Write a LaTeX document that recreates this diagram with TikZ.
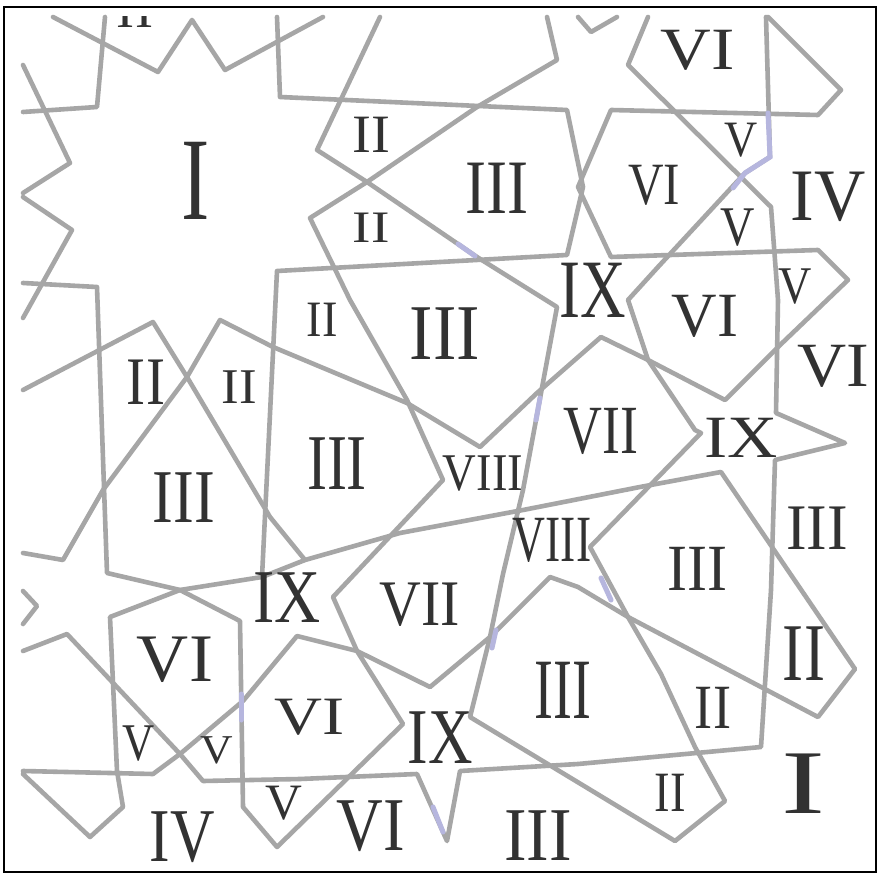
\documentclass[tikz,border=0pt]{standalone}
\usepackage{fontspec}
\setmainfont{Liberation Serif}
\usepackage{tikz}
\usepackage{graphicx}
\definecolor{tilegray}{RGB}{166,166,166}
\definecolor{inkgray}{RGB}{50,50,50}
\definecolor{lavender}{RGB}{182,182,222}
\newcommand{\rnum}[1]{\fontsize{#1}{#1}\selectfont}

\begin{document}
\begin{tikzpicture}[x=1pt,y=-1pt,
	tile/.style={draw=tilegray,line width=4.6pt,line join=round,line cap=round},
	tint/.style={draw=lavender,line width=5pt,line cap=round},
	lab/.style={text=inkgray,inner sep=0pt}]
	\useasboundingbox (0,0) rectangle (878,874);
	\fill[white] (0,0) rectangle (878,874);
	\draw[line width=2pt] (4,7) rectangle (876,872);

	\draw[tile] (53,17) -- (158,72) -- (192,20) -- (225,70) -- (323,17);
	\draw[tile] (23,65) -- (70,163) -- (23,193);
	\draw[tile] (23,197) -- (72,230) -- (23,318);
	\draw[tile] (23,112) -- (97,107) -- (105,17);
	\draw[tile] (578,17) -- (591,32) -- (617,17);
	\draw[tile] (23,591) -- (37,606) -- (23,624);

	\draw[tile] (768,17) -- (841,90) -- (818,115) -- (611,110) -- (578,187) -- (611,257) -- (818,250)
		-- (848,280) -- (778,347) -- (725,400) -- (648,360) -- (601,337) -- (537,393) -- (480,447)
		-- (407,403) -- (273,347) -- (220,320) -- (187,377) -- (103,490) -- (63,560) -- (23,553);
	\draw[tile] (648,17) -- (628,65) -- (771,207) -- (778,300) -- (776,413) -- (845,443) -- (775,460)
		-- (771,590) -- (761,747) -- (578,764) -- (460,771) -- (447,841) -- (417,774) -- (300,779)
		-- (203,781) -- (180,754) -- (67,634) -- (23,651);
	\draw[tile] (766,17) -- (770,157) -- (745,173) -- (658,267) -- (628,300) -- (648,360) -- (695,430)
		-- (701,433) -- (590,547) -- (628,617) -- (661,674) -- (695,747) -- (725,801) -- (675,841)
		-- (470,717) -- (490,637) -- (503,574) -- (523,490) -- (557,307) -- (477,257) -- (367,182)
		-- (317,150) -- (380,17);
	\draw[tile] (547,17) -- (557,60) -- (477,107) -- (367,182) -- (310,218) -- (350,300) -- (407,400)
		-- (443,480) -- (333,597) -- (357,651) -- (403,724) -- (277,847) -- (243,807) -- (240,621)
		-- (180,590) -- (107,573) -- (97,287) -- (23,283);
	\draw[tile] (277,17) -- (280,97) -- (567,110) -- (583,187) -- (567,255) -- (277,271) -- (262,577);
	\draw[tile] (23,774) -- (90,837) -- (123,807) -- (117,771) -- (110,617) -- (180,590) -- (262,577)
		-- (305,560) -- (400,533) -- (523,510) -- (640,487) -- (721,472) -- (855,669) -- (818,717)
		-- (628,617) -- (578,587) -- (550,577) -- (490,637) -- (430,687) -- (357,651) -- (297,636)
		-- (243,701) -- (180,754) -- (153,774) -- (23,771);
	\draw[tile] (23,390) -- (153,322) -- (187,377) -- (270,517) -- (305,560);

	\draw[tint] (768,113) -- (770,157) -- (745,173) -- (733,188);
	\draw[tint] (458,244) -- (475,256);
	\draw[tint] (540,398) -- (536,420);
	\draw[tint] (496,630) -- (492,648);
	\draw[tint] (601,578) -- (611,600);
	\draw[tint] (241,694) -- (241,720);
	\draw[tint] (433,807) -- (443,832);

	\begin{scope}
		\clip (23,17) rectangle (300,60);
		\node[lab,font=\rnum{51}] (top) at (135,11) {\scalebox{1.06}[1]{II}};
	\end{scope}
	\foreach \px/\py/\sz/\xs/\t [count=\i] in {
		196/181/118/0.72/I, 371/135/54/1.05/II, 497/188/77/0.82/III, 371/228/45/1.23/II,
		698/50/60/1.17/VI, 741/140/51/0.9/V, 654/185/60/0.82/VI, 828/197/74/0.96/IV,
		738/228/56/0.85/V, 593/290/83/0.76/IX, 705/316/63/1.0/VI, 795/287/53/0.87/V,
		833/366/63/1.08/VI, 322/320/51/0.91/II, 445/334/79/0.89/III, 146/382/68/0.84/II,
		239/387/50/1.06/II, 337/464/79/0.76/III, 483/474/53/0.88/VIII, 601/431/69/0.78/VII,
		741/438/60/1.16/IX, 184/498/76/0.82/III, 817/528/65/0.95/III, 552/540/66/0.69/VIII,
		697/569/66/0.91/III, 287/598/76/0.84/IX, 420/605/65/0.89/VII, 175/660/68/1.06/VI,
		310/717/54/1.23/VI, 563/690/86/0.66/III, 804/654/82/0.77/II, 713/708/63/0.86/II,
		139/744/53/0.84/V, 217/750/41/1.1/V, 440/738/79/0.78/IX, 284/803/51/1.0/V,
		182/837/76/0.81/IV, 371/826/76/0.85/VI, 538/836/76/0.89/III, 670/793/57/0.82/II,
		803/784/91/1.45/I}
		\node[lab,font=\rnum{\sz}] (r\i) at (\px,\py) {\scalebox{\xs}[1]{\t}};
\end{tikzpicture}
\end{document}
